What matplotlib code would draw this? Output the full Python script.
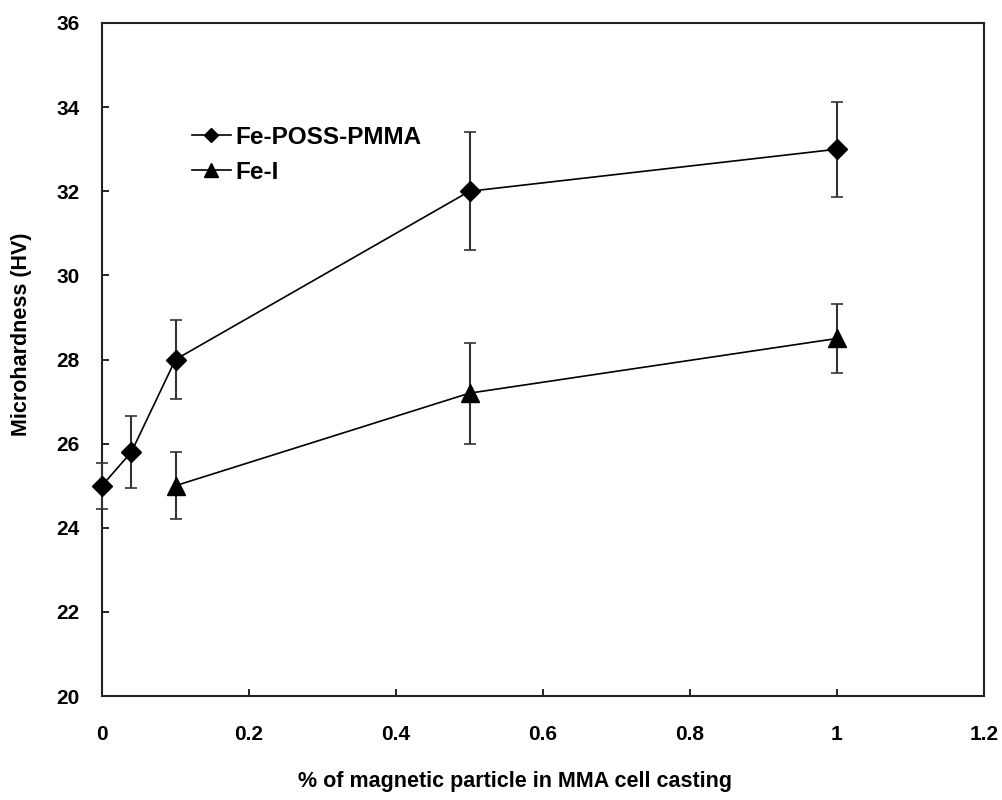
import matplotlib
matplotlib.use("Agg")
import matplotlib.pyplot as plt
from matplotlib.lines import Line2D

# Fe-POSS-PMMA series
poss_x = [0, 0.04, 0.1, 0.5, 1.0]
poss_y = [25.0, 25.8, 28.0, 32.0, 33.0]
poss_err = [0.55, 0.85, 0.95, 1.4, 1.13]

# Fe-I series
fei_x = [0.1, 0.5, 1.0]
fei_y = [25.0, 27.2, 28.5]
fei_err = [0.8, 1.2, 0.82]

plt.rcParams['font.family'] = ['Liberation Sans', 'DejaVu Sans']
plt.rcParams['font.weight'] = 'bold'

fig = plt.figure(figsize=(10.03, 8.0), dpi=100)
ax = fig.add_axes([102 / 1003, 1 - 696 / 800, (984 - 102) / 1003, (696 - 23) / 800])

ax.errorbar(poss_x, poss_y, yerr=poss_err, color='black', marker='D', markersize=10,
            linewidth=1.2, elinewidth=1.5, capsize=4, capthick=1.2, ecolor='#333333',
            clip_on=False, zorder=3)
ax.errorbar(fei_x, fei_y, yerr=fei_err, color='black', marker='^', markersize=13,
            linewidth=1.2, elinewidth=1.5, capsize=4, capthick=1.2, ecolor='#333333',
            clip_on=False, zorder=3)

ax.set_xlim(0, 1.2)
ax.set_ylim(20, 36)
ax.set_xticks([0, 0.2, 0.4, 0.6, 0.8, 1.0, 1.2])
ax.set_xticklabels(['0', '0.2', '0.4', '0.6', '0.8', '1', '1.2'])
ax.set_yticks(range(20, 37, 2))

ax.tick_params(direction='in', length=5, width=1.2, labelsize=15)
ax.tick_params(axis='x', pad=21)
ax.tick_params(axis='y', pad=16)
for s in ax.spines.values():
    s.set_linewidth(1.5)
    s.set_color('#222222')

ax.set_xlabel('% of magnetic particle in MMA cell casting', fontsize=15.5, fontweight='bold')
ax.set_ylabel('Microhardness (HV)', fontsize=15.5, fontweight='bold')
ax.xaxis.set_label_coords(0.468, -0.112)
ax.yaxis.set_label_coords(-0.079, 0.537)

handles = [
    Line2D([], [], color='black', marker='D', markersize=7, linewidth=1.2),
    Line2D([], [], color='black', marker='^', markersize=10, linewidth=1.2),
]
ax.legend(handles, ['Fe-POSS-PMMA', 'Fe-I'], loc='upper left',
          bbox_to_anchor=(0.077, 0.88), frameon=False, fontsize=17.5,
          handlelength=1.6, handletextpad=0.2, labelspacing=0.5)

fig.savefig('out.png', dpi=100)
plt.close(fig)
